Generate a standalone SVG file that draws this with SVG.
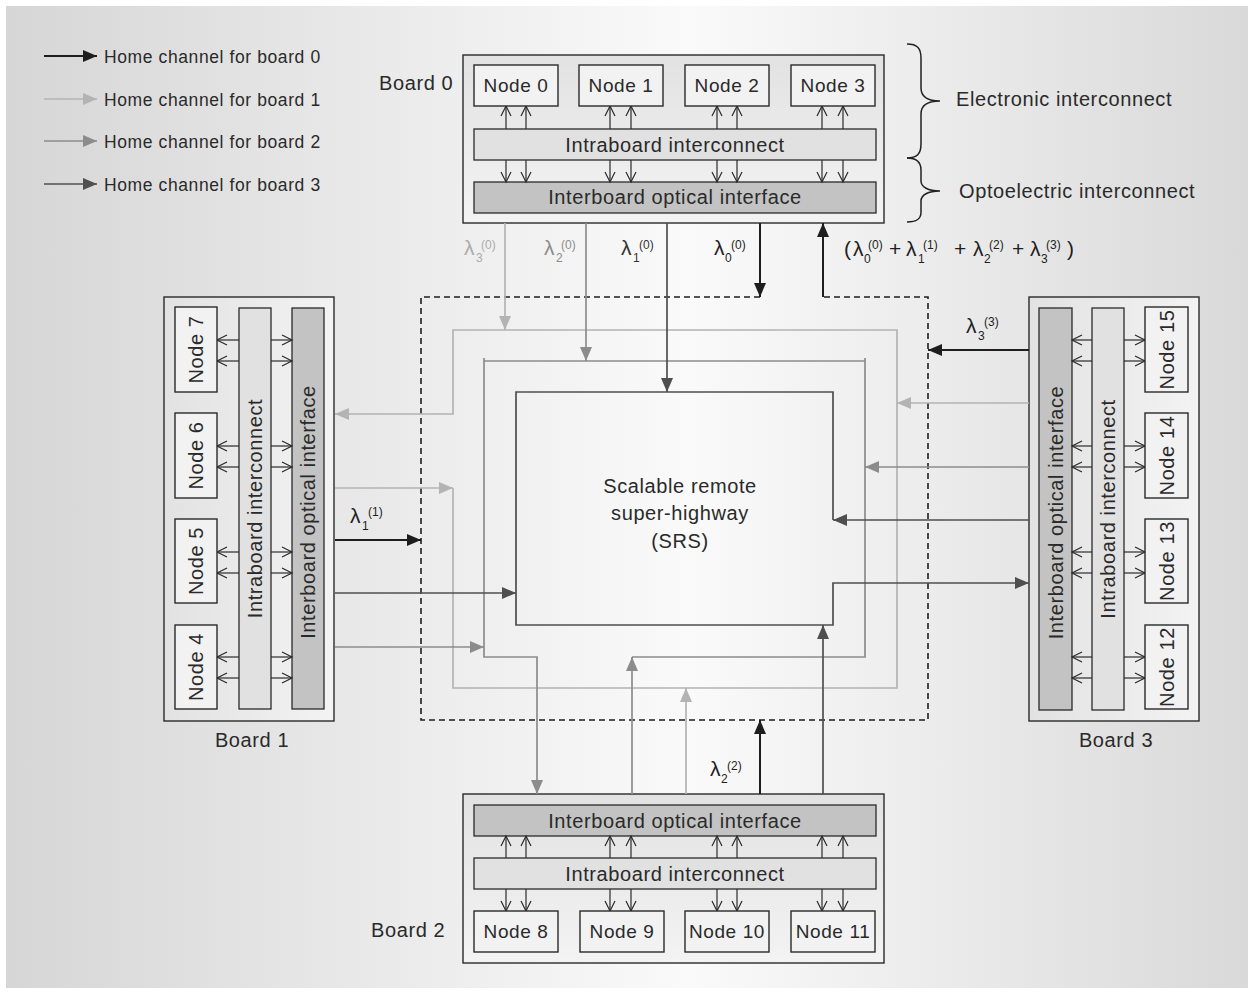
<svg xmlns="http://www.w3.org/2000/svg" width="1254" height="992" viewBox="0 0 1254 992">
<defs>
<linearGradient id="bg" x1="0" y1="0" x2="1" y2="0">
<stop offset="0" stop-color="#d6d6d6"/><stop offset="0.55" stop-color="#fafafa"/><stop offset="1" stop-color="#d9d9d9"/>
</linearGradient>
<linearGradient id="bv" x1="0" y1="0" x2="0" y2="1">
<stop offset="0" stop-color="#e2e2e2"/><stop offset="1" stop-color="#f3f3f3"/>
</linearGradient>
<linearGradient id="bh" x1="0" y1="0" x2="1" y2="0">
<stop offset="0" stop-color="#e2e2e2"/><stop offset="1" stop-color="#f3f3f3"/>
</linearGradient>
<marker id="hB" markerWidth="15" markerHeight="13" refX="14" refY="6" orient="auto" markerUnits="userSpaceOnUse"><path d="M0,0 L14,6 L0,12 z" fill="#1e1e1e"/></marker>
<marker id="hD" markerWidth="15" markerHeight="13" refX="14" refY="6" orient="auto" markerUnits="userSpaceOnUse"><path d="M0,0 L14,6 L0,12 z" fill="#4f4f4f"/></marker>
<marker id="hM" markerWidth="15" markerHeight="13" refX="14" refY="6" orient="auto" markerUnits="userSpaceOnUse"><path d="M0,0 L14,6 L0,12 z" fill="#8c8c8c"/></marker>
<marker id="hL" markerWidth="15" markerHeight="13" refX="14" refY="6" orient="auto" markerUnits="userSpaceOnUse"><path d="M0,0 L14,6 L0,12 z" fill="#b3b3b3"/></marker>
<marker id="op" markerWidth="12" markerHeight="12" refX="10" refY="5" orient="auto" markerUnits="userSpaceOnUse" overflow="visible"><path d="M0,0 L10,5 L0,10" fill="none" stroke="#2a2a2a" stroke-width="1.2"/></marker>
</defs>
<style>
text{font-family:"Liberation Sans",Arial,sans-serif;fill:#2a2a2a}
.t20{font-size:20px;letter-spacing:0.6px}
.t19{font-size:19px;letter-spacing:0.6px}
.lg{font-size:17.5px;letter-spacing:0.6px}
.mid{text-anchor:middle}
.board{stroke:#2a2a2a;stroke-width:1.4}
.node{fill:#f2f2f2;stroke:#2a2a2a;stroke-width:1.4}
.intra{fill:#e1e1e1;stroke:#2a2a2a;stroke-width:1.3}
.opt{fill:#c3c3c3;stroke:#2a2a2a;stroke-width:1.3}
.ch{stroke:#2a2a2a;stroke-width:1.2;fill:none;marker-end:url(#op)}
.cB{stroke:#1e1e1e;stroke-width:2;fill:none}
.cD{stroke:#4f4f4f;stroke-width:1.7;fill:none}
.cM{stroke:#8c8c8c;stroke-width:1.7;fill:none}
.cL{stroke:#b3b3b3;stroke-width:1.7;fill:none}
.l{font-size:21px}
.s{font-size:12px}
</style>
<rect x="0" y="0" width="1254" height="992" fill="#ffffff"/>
<rect x="6" y="6" width="1242" height="982" fill="url(#bg)"/>

<g id="legend">
<line x1="44" y1="56" x2="97" y2="56" class="cB" marker-end="url(#hB)"/>
<line x1="44" y1="99" x2="97" y2="99" class="cL" marker-end="url(#hL)"/>
<line x1="44" y1="141" x2="97" y2="141" class="cM" marker-end="url(#hM)"/>
<line x1="44" y1="184" x2="97" y2="184" class="cD" marker-end="url(#hD)"/>
<text class="lg" x="104" y="63">Home channel for board 0</text>
<text class="lg" x="104" y="106">Home channel for board 1</text>
<text class="lg" x="104" y="148">Home channel for board 2</text>
<text class="lg" x="104" y="191">Home channel for board 3</text>
</g>

<g id="braces" fill="none" stroke="#222" stroke-width="1.5">
<path d="M907,44 C917,44 921,48 921,58 L921,88 C921,97 928,101 940,101 C928,101 921,105 921,114 L921,144 C921,154 917,158 907,158"/>
<path d="M907,158 C917,158 921,162 921,170 L921,181 C921,187 928,191 940,191 C928,191 921,195 921,201 L921,212 C921,219 917,222 907,222"/>
<text class="t20" x="956" y="106" stroke="none">Electronic interconnect</text>
<text class="t20" x="959" y="198" stroke="none">Optoelectric interconnect</text>
</g>

<!-- Board 0 -->
<g id="board-0">
<rect class="board" x="463" y="55" width="421" height="168" fill="url(#bv)"/>
<text class="t20" x="379" y="90">Board 0</text>
<rect id="intra-0" class="intra" x="474" y="129" width="402" height="31"/>
<text class="t20 mid" x="675" y="152">Intraboard interconnect</text>
<rect id="opt-0" class="opt" x="474" y="182" width="402" height="31"/>
<text class="t20 mid" x="675" y="204">Interboard optical interface</text>
<g>
<line class="ch" x1="506" y1="129" x2="506" y2="106"/><line class="ch" x1="526" y1="129" x2="526" y2="106"/>
<line class="ch" x1="610" y1="129" x2="610" y2="106"/><line class="ch" x1="631" y1="129" x2="631" y2="106"/>
<line class="ch" x1="717" y1="129" x2="717" y2="106"/><line class="ch" x1="737" y1="129" x2="737" y2="106"/>
<line class="ch" x1="822" y1="129" x2="822" y2="106"/><line class="ch" x1="843" y1="129" x2="843" y2="106"/>
<line class="ch" x1="506" y1="160" x2="506" y2="182"/><line class="ch" x1="526" y1="160" x2="526" y2="182"/>
<line class="ch" x1="610" y1="160" x2="610" y2="182"/><line class="ch" x1="631" y1="160" x2="631" y2="182"/>
<line class="ch" x1="717" y1="160" x2="717" y2="182"/><line class="ch" x1="737" y1="160" x2="737" y2="182"/>
<line class="ch" x1="822" y1="160" x2="822" y2="182"/><line class="ch" x1="843" y1="160" x2="843" y2="182"/>
</g>
</g>
<g id="node-0"><rect class="node" x="474" y="65" width="84" height="41"/><text class="t19 mid" x="516" y="92">Node 0</text></g>
<g id="node-1"><rect class="node" x="579" y="65" width="84" height="41"/><text class="t19 mid" x="621" y="92">Node 1</text></g>
<g id="node-2"><rect class="node" x="685" y="65" width="84" height="41"/><text class="t19 mid" x="727" y="92">Node 2</text></g>
<g id="node-3"><rect class="node" x="791" y="65" width="84" height="41"/><text class="t19 mid" x="833" y="92">Node 3</text></g>

<!-- Board 2 -->
<g id="board-2">
<rect class="board" x="463" y="794" width="421" height="169" fill="url(#bv)"/>
<text class="t20" x="371" y="937">Board 2</text>
<rect id="opt-2" class="opt" x="474" y="805" width="402" height="31"/>
<text class="t20 mid" x="675" y="828">Interboard optical interface</text>
<rect id="intra-2" class="intra" x="474" y="858" width="402" height="31"/>
<text class="t20 mid" x="675" y="881">Intraboard interconnect</text>
<g>
<line class="ch" x1="506" y1="858" x2="506" y2="836"/><line class="ch" x1="526" y1="858" x2="526" y2="836"/>
<line class="ch" x1="610" y1="858" x2="610" y2="836"/><line class="ch" x1="631" y1="858" x2="631" y2="836"/>
<line class="ch" x1="717" y1="858" x2="717" y2="836"/><line class="ch" x1="737" y1="858" x2="737" y2="836"/>
<line class="ch" x1="822" y1="858" x2="822" y2="836"/><line class="ch" x1="843" y1="858" x2="843" y2="836"/>
<line class="ch" x1="506" y1="889" x2="506" y2="911"/><line class="ch" x1="526" y1="889" x2="526" y2="911"/>
<line class="ch" x1="610" y1="889" x2="610" y2="911"/><line class="ch" x1="631" y1="889" x2="631" y2="911"/>
<line class="ch" x1="717" y1="889" x2="717" y2="911"/><line class="ch" x1="737" y1="889" x2="737" y2="911"/>
<line class="ch" x1="822" y1="889" x2="822" y2="911"/><line class="ch" x1="843" y1="889" x2="843" y2="911"/>
</g>
</g>
<g id="node-8"><rect class="node" x="474" y="911" width="84" height="41"/><text class="t19 mid" x="516" y="938">Node 8</text></g>
<g id="node-9"><rect class="node" x="580" y="911" width="84" height="41"/><text class="t19 mid" x="622" y="938">Node 9</text></g>
<g id="node-10"><rect class="node" x="685" y="911" width="84" height="41"/><text class="t19 mid" x="727" y="938">Node 10</text></g>
<g id="node-11"><rect class="node" x="791" y="911" width="84" height="41"/><text class="t19 mid" x="833" y="938">Node 11</text></g>

<!-- Board 1 -->
<g id="board-1">
<rect class="board" x="164" y="297" width="170" height="424" fill="url(#bh)"/>
<text class="t20 mid" x="252" y="747">Board 1</text>
<rect id="intra-1" class="intra" x="239" y="308" width="32" height="401"/>
<text class="t20 mid" transform="translate(262,508.5) rotate(-90)" x="0" y="0">Intraboard interconnect</text>
<rect id="opt-1" class="opt" x="292" y="308" width="32" height="401"/>
<text class="t20 mid" transform="translate(315,512) rotate(-90)" x="0" y="0">Interboard optical interface</text>
<g>
<line class="ch" x1="239" y1="340" x2="217" y2="340"/><line class="ch" x1="239" y1="361" x2="217" y2="361"/>
<line class="ch" x1="239" y1="446" x2="217" y2="446"/><line class="ch" x1="239" y1="467" x2="217" y2="467"/>
<line class="ch" x1="239" y1="552" x2="217" y2="552"/><line class="ch" x1="239" y1="573" x2="217" y2="573"/>
<line class="ch" x1="239" y1="657" x2="217" y2="657"/><line class="ch" x1="239" y1="678" x2="217" y2="678"/>
<line class="ch" x1="271" y1="340" x2="292" y2="340"/><line class="ch" x1="271" y1="361" x2="292" y2="361"/>
<line class="ch" x1="271" y1="446" x2="292" y2="446"/><line class="ch" x1="271" y1="467" x2="292" y2="467"/>
<line class="ch" x1="271" y1="552" x2="292" y2="552"/><line class="ch" x1="271" y1="573" x2="292" y2="573"/>
<line class="ch" x1="271" y1="657" x2="292" y2="657"/><line class="ch" x1="271" y1="678" x2="292" y2="678"/>
</g>
</g>
<g id="node-7"><rect class="node" x="175" y="307" width="42" height="85"/><text class="t20 mid" transform="translate(203,349.5) rotate(-90)" x="0" y="0">Node 7</text></g>
<g id="node-6"><rect class="node" x="175" y="413" width="42" height="85"/><text class="t20 mid" transform="translate(203,455.5) rotate(-90)" x="0" y="0">Node 6</text></g>
<g id="node-5"><rect class="node" x="175" y="519" width="42" height="84"/><text class="t20 mid" transform="translate(203,561) rotate(-90)" x="0" y="0">Node 5</text></g>
<g id="node-4"><rect class="node" x="175" y="625" width="42" height="84"/><text class="t20 mid" transform="translate(203,667) rotate(-90)" x="0" y="0">Node 4</text></g>

<!-- Board 3 -->
<g id="board-3">
<rect class="board" x="1029" y="297" width="170" height="424" fill="url(#bh)"/>
<text class="t20 mid" x="1116" y="747">Board 3</text>
<rect id="opt-3" class="opt" x="1039" y="308" width="33" height="402"/>
<text class="t20 mid" transform="translate(1063,512.5) rotate(-90)" x="0" y="0">Interboard optical interface</text>
<rect id="intra-3" class="intra" x="1092" y="308" width="32" height="402"/>
<text class="t20 mid" transform="translate(1115,509) rotate(-90)" x="0" y="0">Intraboard interconnect</text>
<g>
<line class="ch" x1="1092" y1="340" x2="1072" y2="340"/><line class="ch" x1="1092" y1="361" x2="1072" y2="361"/>
<line class="ch" x1="1092" y1="446" x2="1072" y2="446"/><line class="ch" x1="1092" y1="467" x2="1072" y2="467"/>
<line class="ch" x1="1092" y1="552" x2="1072" y2="552"/><line class="ch" x1="1092" y1="573" x2="1072" y2="573"/>
<line class="ch" x1="1092" y1="657" x2="1072" y2="657"/><line class="ch" x1="1092" y1="678" x2="1072" y2="678"/>
<line class="ch" x1="1124" y1="340" x2="1145" y2="340"/><line class="ch" x1="1124" y1="361" x2="1145" y2="361"/>
<line class="ch" x1="1124" y1="446" x2="1145" y2="446"/><line class="ch" x1="1124" y1="467" x2="1145" y2="467"/>
<line class="ch" x1="1124" y1="552" x2="1145" y2="552"/><line class="ch" x1="1124" y1="573" x2="1145" y2="573"/>
<line class="ch" x1="1124" y1="657" x2="1145" y2="657"/><line class="ch" x1="1124" y1="678" x2="1145" y2="678"/>
</g>
</g>
<g id="node-15"><rect class="node" x="1145" y="307" width="43" height="85"/><text class="t20 mid" transform="translate(1173.5,349.5) rotate(-90)" x="0" y="0">Node 15</text></g>
<g id="node-14"><rect class="node" x="1145" y="413" width="43" height="85"/><text class="t20 mid" transform="translate(1173.5,455.5) rotate(-90)" x="0" y="0">Node 14</text></g>
<g id="node-13"><rect class="node" x="1145" y="519" width="43" height="84"/><text class="t20 mid" transform="translate(1173.5,561) rotate(-90)" x="0" y="0">Node 13</text></g>
<g id="node-12"><rect class="node" x="1145" y="625" width="43" height="84"/><text class="t20 mid" transform="translate(1173.5,667) rotate(-90)" x="0" y="0">Node 12</text></g>

<!-- SRS -->
<g id="srs">
<text class="t20 mid" x="680" y="493">Scalable remote</text>
<text class="t20 mid" x="680" y="520">super-highway</text>
<text class="t20 mid" x="680" y="548">(SRS)</text>
</g>

<g id="connectors">
<path d="M760,297 L421,297 L421,720 L928,720 L928,297 L823,297" fill="none" stroke="#1e1e1e" stroke-width="1.6" stroke-dasharray="6,4"/>
<path class="cL" d="M453,488 L453,688 L897,688 L897,330 L453,330 L453,414 L335,414" marker-end="url(#hL)"/>
<line class="cL" x1="505" y1="223" x2="505" y2="330" marker-end="url(#hL)"/>
<line class="cL" x1="335" y1="488" x2="453" y2="488" marker-end="url(#hL)"/>
<line class="cL" x1="1029" y1="403" x2="897" y2="403" marker-end="url(#hL)"/>
<line class="cL" x1="686" y1="794" x2="686" y2="688" marker-end="url(#hL)"/>
<path class="cM" d="M632,657 L865,657 L865,358 M865,361 L484,361 M484,358 L484,657 L537,657 L537,794" marker-end="url(#hM)"/>
<line class="cM" x1="586" y1="223" x2="586" y2="361" marker-end="url(#hM)"/>
<line class="cM" x1="335" y1="647" x2="484" y2="647" marker-end="url(#hM)"/>
<line class="cM" x1="1029" y1="467" x2="865" y2="467" marker-end="url(#hM)"/>
<line class="cM" x1="632" y1="794" x2="632" y2="657" marker-end="url(#hM)"/>
<path class="cD" d="M833,520 L833,392 L516,392 L516,625 L833,625 L833,583 L1029,583" marker-end="url(#hD)"/>
<line class="cD" x1="667" y1="223" x2="667" y2="392" marker-end="url(#hD)"/>
<line class="cD" x1="335" y1="593" x2="516" y2="593" marker-end="url(#hD)"/>
<line class="cD" x1="1029" y1="520" x2="833" y2="520" marker-end="url(#hD)"/>
<line class="cD" x1="823" y1="794" x2="823" y2="625" marker-end="url(#hD)"/>
<line class="cB" x1="760" y1="223" x2="760" y2="297" marker-end="url(#hB)"/>
<line class="cB" x1="823" y1="297" x2="823" y2="223" marker-end="url(#hB)"/>
<line class="cB" x1="335" y1="540" x2="421" y2="540" marker-end="url(#hB)"/>
<line class="cB" x1="1029" y1="350" x2="928" y2="350" marker-end="url(#hB)"/>
<line class="cB" x1="760" y1="794" x2="760" y2="720" marker-end="url(#hB)"/>
</g>

<g id="labels">
<text style="fill:#ababab"><tspan class="l" x="464" y="255">λ</tspan><tspan class="s" x="476" y="262">3</tspan><tspan class="s" x="481" y="249">(0)</tspan></text>
<text style="fill:#8c8c8c"><tspan class="l" x="544" y="255">λ</tspan><tspan class="s" x="556" y="262">2</tspan><tspan class="s" x="561" y="249">(0)</tspan></text>
<text style="fill:#333"><tspan class="l" x="621" y="255">λ</tspan><tspan class="s" x="633" y="262">1</tspan><tspan class="s" x="639" y="249">(0)</tspan></text>
<text style="fill:#1e1e1e"><tspan class="l" x="714" y="255">λ</tspan><tspan class="s" x="725" y="262">0</tspan><tspan class="s" x="731" y="249">(0)</tspan></text>
<text style="fill:#1e1e1e"><tspan class="l" x="844" y="256">(</tspan><tspan class="l" x="853" y="256">λ</tspan><tspan class="s" x="864" y="263">0</tspan><tspan class="s" x="868" y="249">(0)</tspan><tspan class="l" x="889" y="256">+</tspan><tspan class="l" x="906" y="256">λ</tspan><tspan class="s" x="918" y="263">1</tspan><tspan class="s" x="923" y="249">(1)</tspan><tspan class="l" x="954" y="256">+</tspan><tspan class="l" x="973" y="256">λ</tspan><tspan class="s" x="984" y="263">2</tspan><tspan class="s" x="989" y="249">(2)</tspan><tspan class="l" x="1012" y="256">+</tspan><tspan class="l" x="1030" y="256">λ</tspan><tspan class="s" x="1041" y="263">3</tspan><tspan class="s" x="1046" y="249">(3)</tspan><tspan class="l" x="1067" y="256">)</tspan></text>
<text style="fill:#1e1e1e"><tspan class="l" x="350" y="523">λ</tspan><tspan class="s" x="362" y="530">1</tspan><tspan class="s" x="368" y="516">(1)</tspan></text>
<text style="fill:#1e1e1e"><tspan class="l" x="966" y="333">λ</tspan><tspan class="s" x="978" y="340">3</tspan><tspan class="s" x="984" y="326">(3)</tspan></text>
<text style="fill:#1e1e1e"><tspan class="l" x="710" y="776">λ</tspan><tspan class="s" x="721" y="783">2</tspan><tspan class="s" x="727" y="770">(2)</tspan></text>
</g>
</svg>
